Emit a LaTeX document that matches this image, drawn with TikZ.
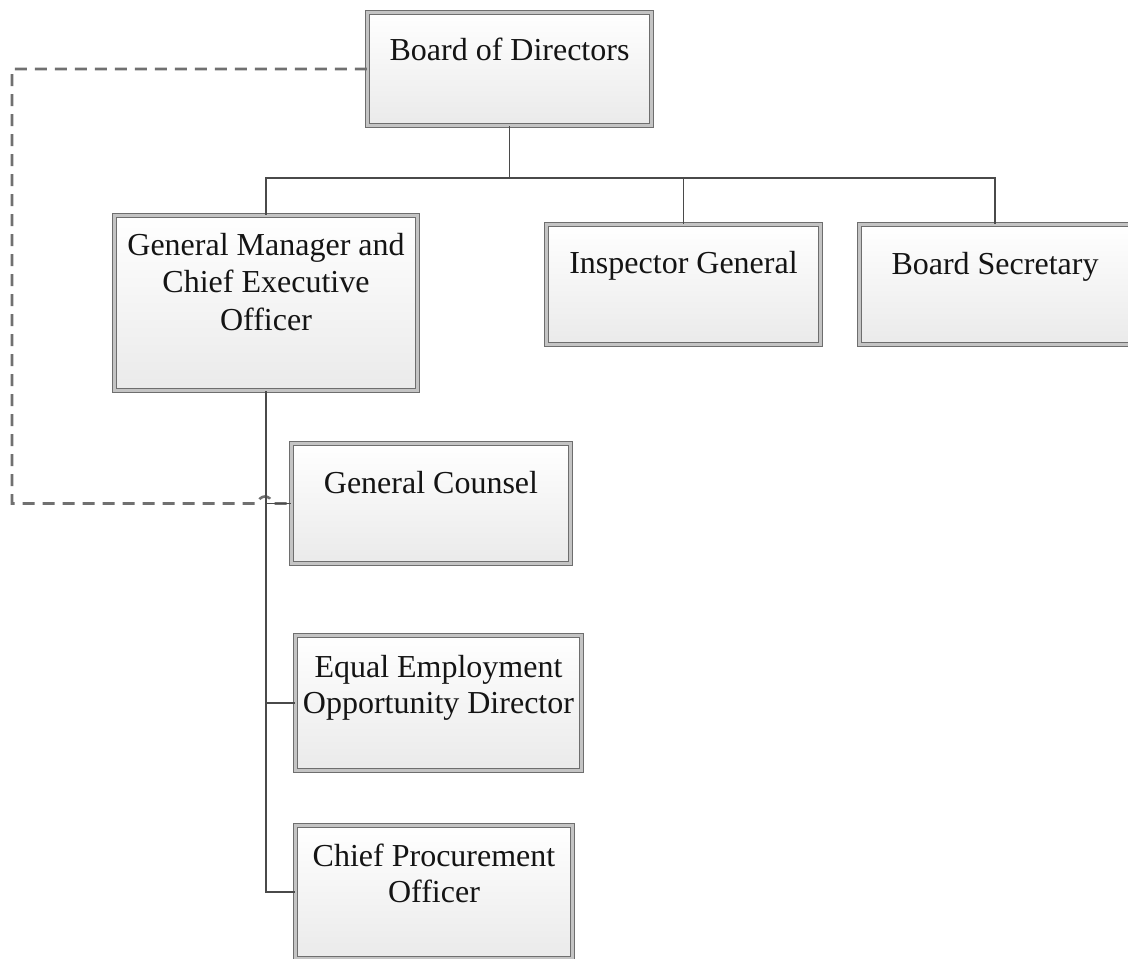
\documentclass[tikz,border=0pt]{standalone}
\usepackage{fontspec}
\setmainfont{Liberation Serif}
\definecolor{boxline}{HTML}{6E6E6E}
\definecolor{boxmid}{HTML}{C4C4C4}
\definecolor{boxbot}{HTML}{EAEAEA}
\definecolor{txt}{HTML}{141414}
\definecolor{linec}{HTML}{4A4A4A}
\definecolor{dashc}{HTML}{707070}
\tikzset{
  box/.style={rectangle, draw=boxline, double=boxmid, double distance=2.2pt, line width=1.2pt,
              top color=white, bottom color=boxbot, inner sep=0pt},
  lbl/.style={text=txt, align=center, inner sep=0pt, anchor=north},
  link/.style={draw=linec, line width=1.5pt},
  dashlink/.style={draw=dashc, line width=2.6pt, dash pattern=on 12pt off 8pt},
}
\begin{document}
\begin{tikzpicture}[x=1pt,y=-1pt]
\clip (0,0) rectangle (1128,959);
\fill[white] (0,0) rectangle (1128,959);

% boxes
\node[box, minimum width=284pt, minimum height=113pt] (bod) at (509.5,69) {};
\node[box, minimum width=303pt, minimum height=175pt] (gm)  at (266,303) {};
\node[box, minimum width=274pt, minimum height=120pt] (ig)  at (683.5,284.5) {};
\node[box, minimum width=271pt, minimum height=120pt] (bs)  at (995,284.5) {};
\node[box, minimum width=279pt, minimum height=120pt] (gc)  at (431,503.5) {};
\node[box, minimum width=286pt, minimum height=135pt] (eeo) at (438.5,703) {};
\node[box, minimum width=277pt, minimum height=133pt] (cpo) at (434,892) {};

% labels
\node[lbl, font=\fontsize{32}{37.5}\selectfont] (tbod) at (509.5,38) {Board of Directors};
\node[lbl, font=\fontsize{32}{37.5}\selectfont] (tgm)  at (266,233) {General Manager and\\Chief Executive\\Officer};
\node[lbl, font=\fontsize{32}{37.5}\selectfont] (tig)  at (683.5,251) {Inspector General};
\node[lbl, font=\fontsize{32}{37.5}\selectfont] (tbs)  at (995,252) {Board Secretary};
\node[lbl, font=\fontsize{32}{37.5}\selectfont] (tgc)  at (431,471) {General Counsel};
\node[lbl, font=\fontsize{32}{36}\selectfont] (teeo) at (438.5,655) {Equal Employment\\Opportunity Director};
\node[lbl, font=\fontsize{32}{36}\selectfont] (tcpo) at (434,844) {Chief Procurement\\Officer};

% dashed link from Board to General Counsel with a hop over the solid line
\coordinate (dcorner) at (12,69);
\draw[dashlink] (bod.west) -- (dcorner) -- (12,503.5) -- (258,503.5)
   arc[start angle=180, end angle=360, radius=7] -- (gc.west);

% solid links
\coordinate (bus) at (509.5,178);
\draw[link] (bod.south) -- (bus);
\draw[link] (gm.north) |- (bus);
\draw[link] (bs.north) |- (bus);
\draw[link] (ig.north) -- (ig.north |- bus);
\draw[link] (gm.south) |- (gc.west);
\draw[link] (gm.south) |- (eeo.west);
\draw[link] (gm.south) |- (cpo.west);
\end{tikzpicture}
\end{document}
